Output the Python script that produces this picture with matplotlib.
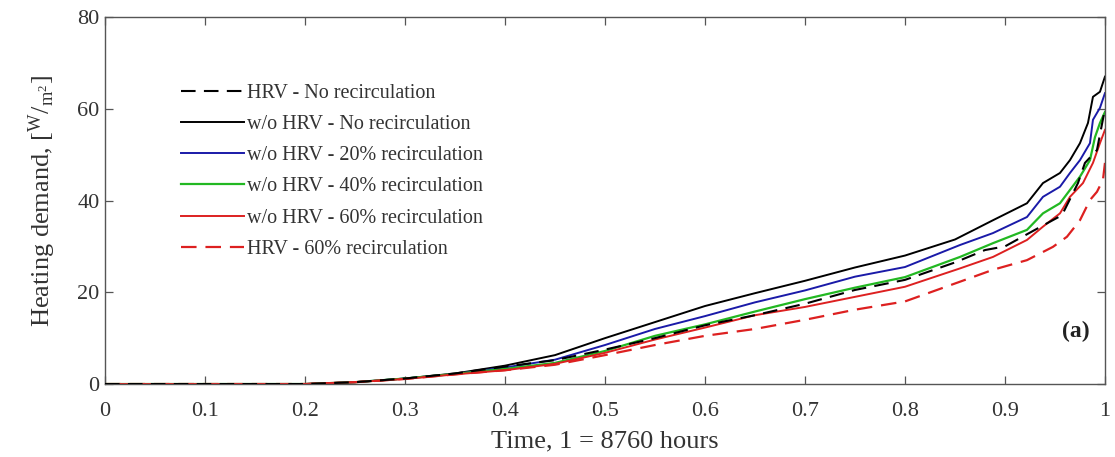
import matplotlib
matplotlib.use("Agg")
import matplotlib.pyplot as plt

plt.rcParams['font.family'] = ['Liberation Serif', 'DejaVu Serif']
plt.rcParams['mathtext.fontset'] = 'custom'
plt.rcParams['mathtext.rm'] = 'Liberation Serif'
plt.rcParams['mathtext.it'] = 'Liberation Serif'

# ---- data ----
x_bk = [0, 0.2, 0.25, 0.3, 0.35, 0.4, 0.45, 0.5, 0.55, 0.6, 0.65, 0.7, 0.75, 0.8, 0.85,
        0.888, 0.922, 0.938, 0.955, 0.965, 0.975, 0.983, 0.988, 0.995, 1.0]
y_bk = [0, 0, 0.4, 1.2, 2.3, 4.0, 6.3, 10.0, 13.5, 17.0, 19.8, 22.5, 25.4, 28.0, 31.5,
        35.7, 39.4, 43.8, 46.0, 48.8, 52.5, 56.9, 62.6, 63.7, 67.0]

x_bl = [0, 0.2, 0.25, 0.3, 0.35, 0.4, 0.45, 0.5, 0.55, 0.6, 0.65, 0.7, 0.75, 0.8, 0.855,
        0.888, 0.922, 0.938, 0.955, 0.965, 0.975, 0.985, 0.988, 0.995, 1.0]
y_bl = [0, 0, 0.4, 1.2, 2.2, 3.6, 5.3, 8.5, 12.0, 14.8, 17.8, 20.4, 23.4, 25.5, 30.3,
        32.9, 36.4, 40.8, 43.0, 46.0, 48.8, 52.5, 57.6, 60.2, 63.4]

x_gr = [0, 0.2, 0.25, 0.3, 0.35, 0.4, 0.45, 0.5, 0.55, 0.6, 0.65, 0.7, 0.75, 0.8, 0.855,
        0.888, 0.922, 0.938, 0.955, 0.965, 0.975, 0.985, 0.99, 0.995, 1.0]
y_gr = [0, 0, 0.4, 1.2, 2.2, 3.3, 4.6, 7.2, 10.5, 13.0, 15.8, 18.5, 21.0, 23.3, 27.7,
        30.7, 33.6, 37.2, 39.4, 42.3, 45.2, 48.8, 53.8, 56.9, 59.3]

x_rd = [0, 0.2, 0.25, 0.3, 0.35, 0.4, 0.45, 0.5, 0.55, 0.6, 0.65, 0.7, 0.75, 0.8, 0.855,
        0.888, 0.922, 0.938, 0.955, 0.965, 0.978, 0.988, 0.995, 1.0]
y_rd = [0, 0, 0.4, 1.1, 2.1, 3.0, 4.4, 6.8, 9.7, 12.3, 15.0, 16.8, 19.0, 21.2, 25.2,
        27.7, 31.4, 34.3, 37.2, 40.8, 43.8, 48.2, 52.5, 55.4]

x_rdd = [0, 0.2, 0.25, 0.3, 0.35, 0.4, 0.45, 0.5, 0.55, 0.6, 0.65, 0.7, 0.75, 0.8, 0.855,
         0.888, 0.922, 0.948, 0.962, 0.975, 0.985, 0.992, 0.998, 1.0]
y_rdd = [0, 0, 0.4, 1.1, 2.1, 3.0, 4.2, 6.3, 8.5, 10.5, 12.0, 14.0, 16.2, 18.0, 22.3,
         24.9, 27.0, 29.9, 32.1, 35.7, 40.1, 41.9, 44.5, 48.2]

x_bkd = [0, 0.2, 0.25, 0.3, 0.35, 0.4, 0.45, 0.5, 0.55, 0.6, 0.65, 0.7, 0.75, 0.8, 0.85,
         0.88, 0.9, 0.93, 0.957, 0.973, 0.98, 0.992, 1.0]
y_bkd = [0, 0, 0.4, 1.2, 2.3, 3.8, 5.2, 7.5, 10.0, 12.8, 15.0, 17.5, 20.5, 22.7, 26.5,
         29.2, 30.0, 33.6, 36.8, 43.8, 48.2, 51.0, 60.0]

labels = ["HRV - No recirculation",
          "w/o HRV - No recirculation",
          "w/o HRV - 20% recirculation",
          "w/o HRV - 40% recirculation",
          "w/o HRV - 60% recirculation",
          "HRV - 60% recirculation"]

x_ticks = [0, 0.1, 0.2, 0.3, 0.4, 0.5, 0.6, 0.7, 0.8, 0.9, 1]
x_ticklabels = ["0", "0.1", "0.2", "0.3", "0.4", "0.5", "0.6", "0.7", "0.8", "0.9", "1"]
y_ticks = [0, 20, 40, 60, 80]

# ---- figure ----
fig = plt.figure(figsize=(11.15, 4.57), dpi=100)
ax = fig.add_axes([0.0942, 0.1597, 0.8968, 0.8031])

dash = (0, (7.0, 4.0))
ax.plot(x_bkd, y_bkd, color='black', lw=1.5, linestyle=dash, label=labels[0], zorder=6)
ax.plot(x_bk, y_bk, color='black', lw=1.4, label=labels[1])
ax.plot(x_bl, y_bl, color='#1a1aa8', lw=1.4, label=labels[2])
ax.plot(x_gr, y_gr, color='#22b822', lw=1.6, label=labels[3])
ax.plot(x_rd, y_rd, color='#dd2020', lw=1.4, label=labels[4])
ax.plot(x_rdd, y_rdd, color='#dd2020', lw=1.6, linestyle=dash, label=labels[5])

ax.set_xlim(0, 1)
ax.set_ylim(0, 80)
ax.set_xticks(x_ticks)
ax.set_xticklabels(x_ticklabels)
ax.set_yticks(y_ticks)

axis_col = '#555555'
for s in ax.spines.values():
    s.set_color(axis_col)
    s.set_linewidth(1.0)
ax.tick_params(direction='in', top=True, right=True, length=6, width=0.9,
               color=axis_col, labelsize=16, labelcolor='#333333')
ax.tick_params(axis='x', pad=13)
ax.tick_params(axis='y', pad=4)

ax.set_xlabel("Time, 1 = 8760 hours", fontsize=19, color='#333333', labelpad=7)
ax.set_ylabel(r"Heating demand, $[^{\mathrm{W}}/_{\mathrm{m}^{2}}]$", fontsize=19,
              color='#333333', labelpad=14)

ax.text(0.985, 0.142, "(a)", transform=ax.transAxes, ha='right', va='center',
        fontsize=17, fontweight='bold', color='#222222')

leg = ax.legend(loc='upper left', bbox_to_anchor=(0.068, 0.84), frameon=False,
                fontsize=14.5, handlelength=3.1, handletextpad=0.15, labelspacing=0.6,
                borderaxespad=0)
for t in leg.get_texts():
    t.set_color('#333333')

fig.savefig("out.png", dpi=100, facecolor='white')
